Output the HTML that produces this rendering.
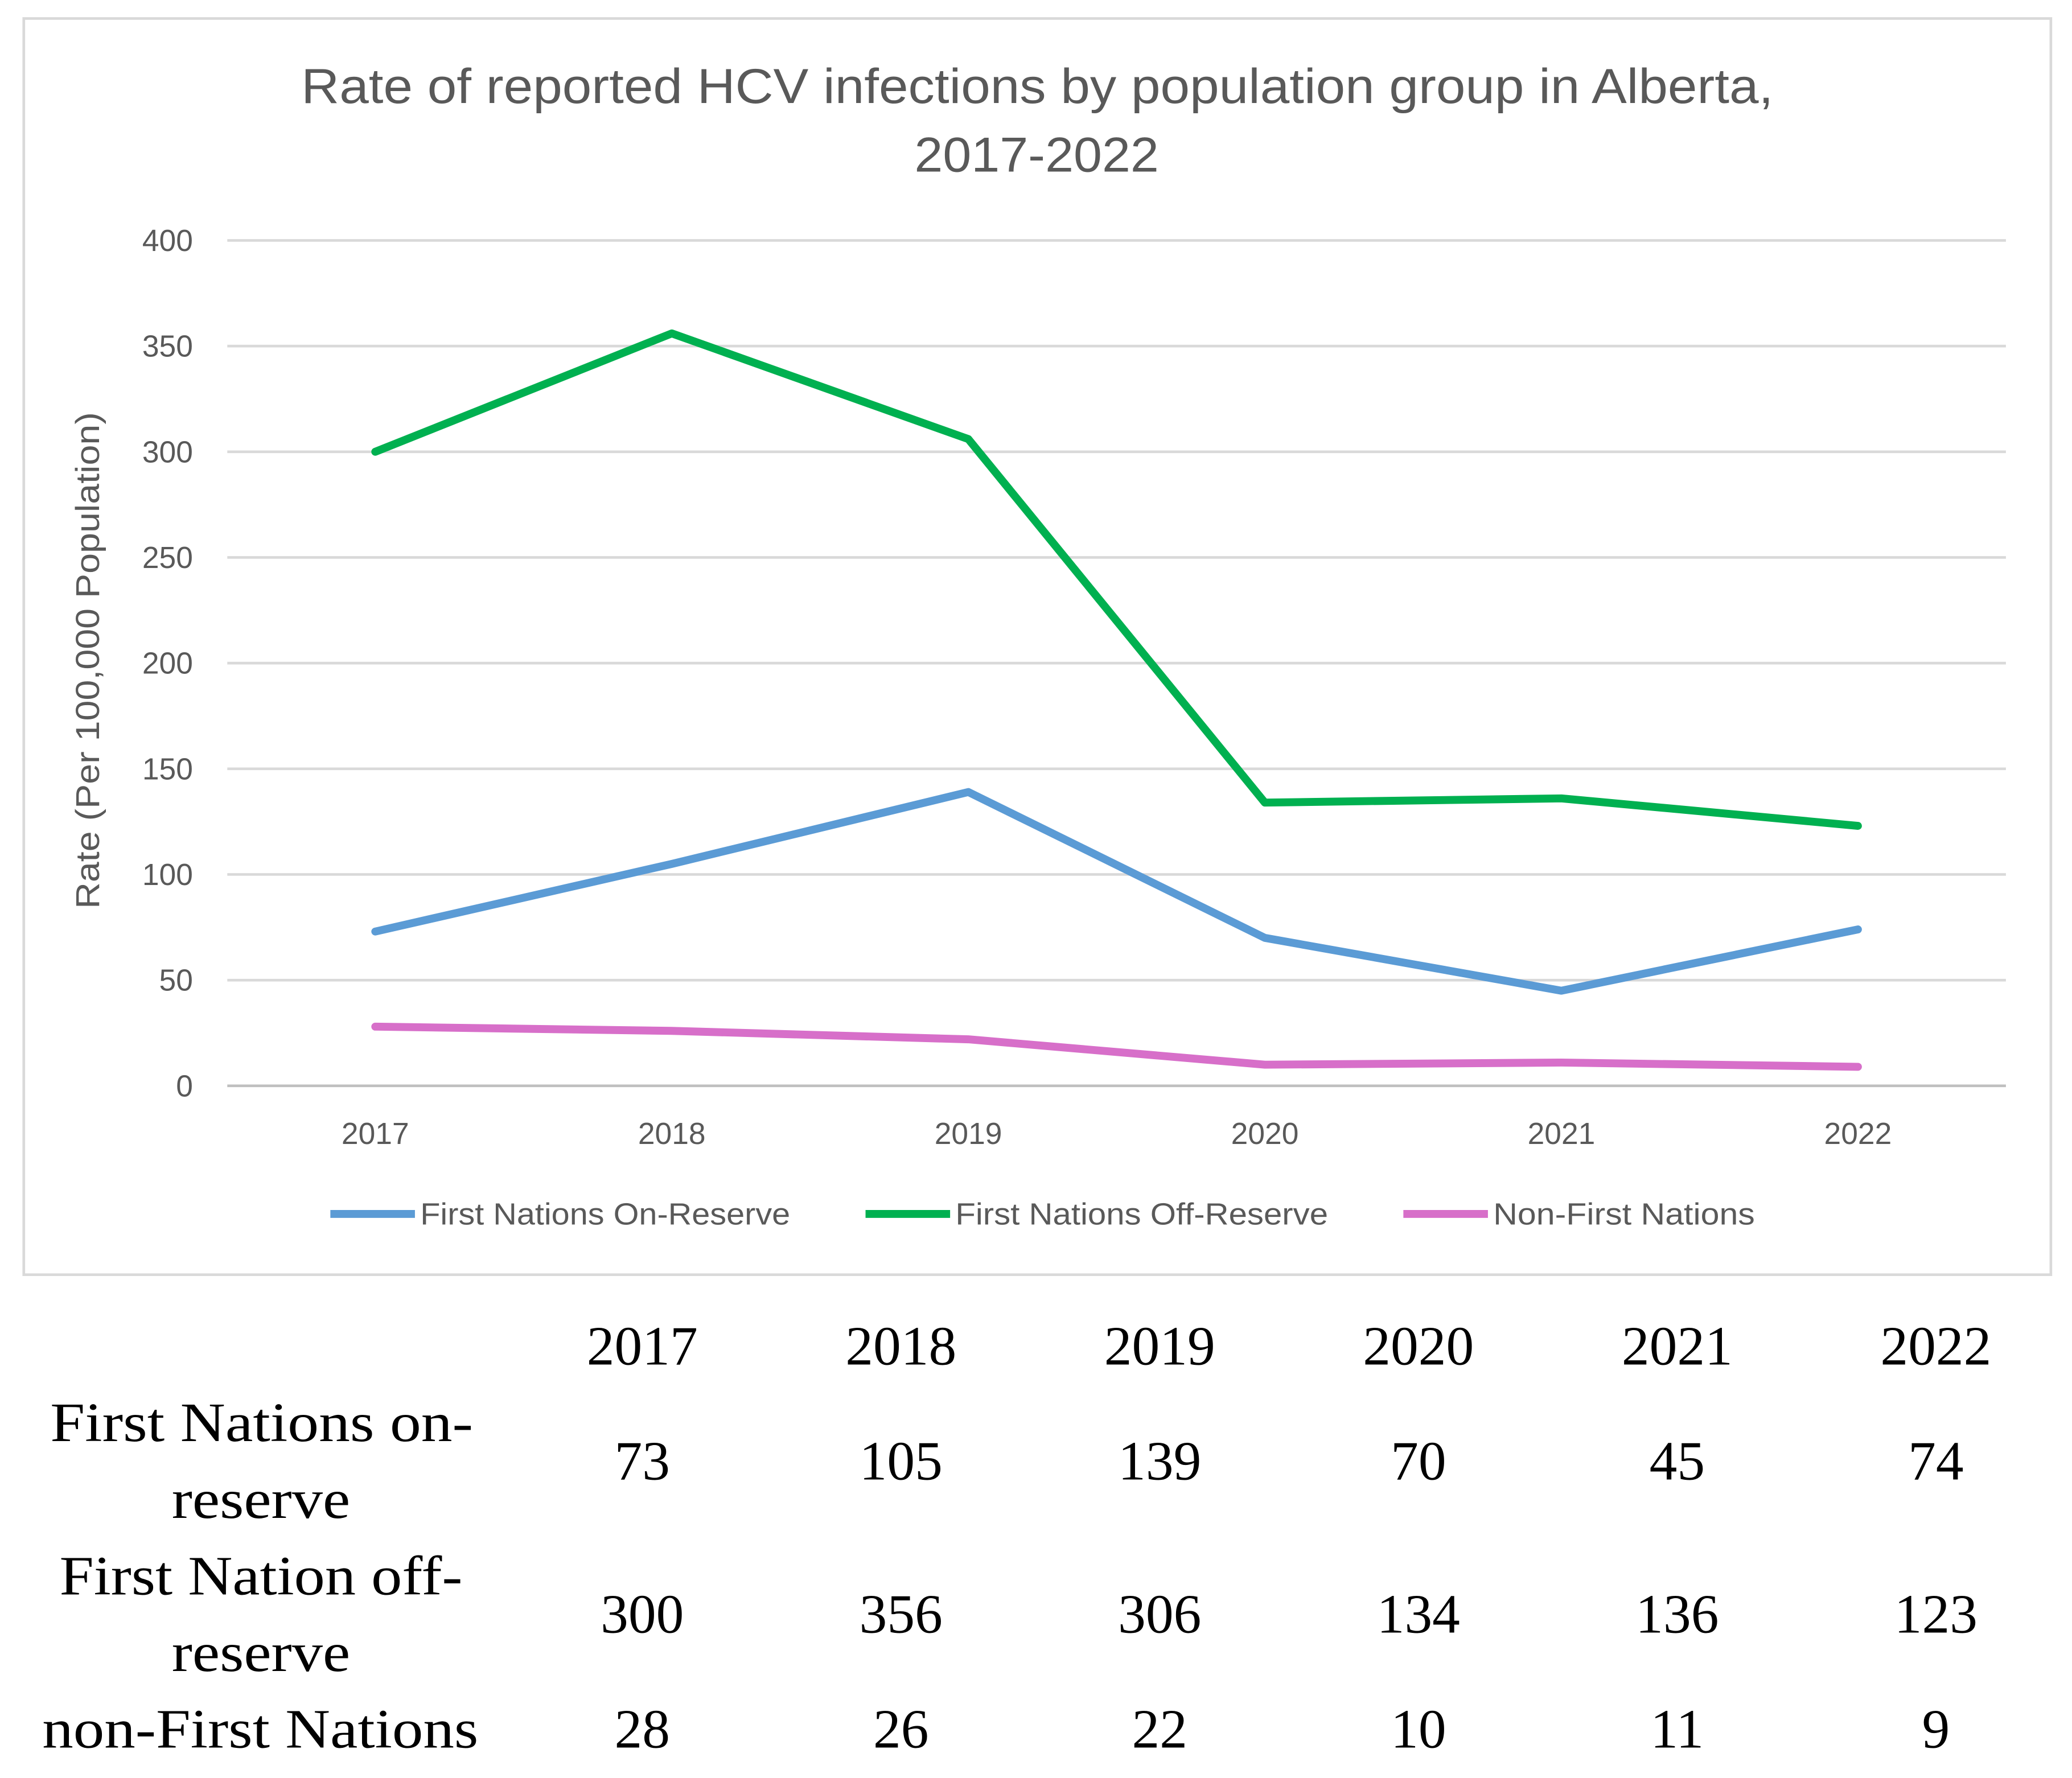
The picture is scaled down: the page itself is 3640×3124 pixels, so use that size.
<!DOCTYPE html>
<html><head><meta charset="utf-8"><style>
html,body{margin:0;padding:0;background:#fff}
svg{display:block}
.ax{font-family:"Liberation Sans","DejaVu Sans",sans-serif;fill:#595959}
.tb{font-family:"Liberation Serif",serif;fill:#000;font-size:42px}
</style></head><body>
<svg id="chart" width="3640" height="3124" viewBox="0 0 1568 1346" preserveAspectRatio="none" xmlns="http://www.w3.org/2000/svg">
<rect x="18" y="14" width="1534" height="951" fill="#fff" stroke="#d9d9d9" stroke-width="2"/>
<text class="ax" x="228" y="78" textLength="1114" lengthAdjust="spacingAndGlyphs" font-size="37">Rate of reported HCV infections by population group in Alberta,</text>
<text class="ax" x="692" y="130" textLength="185" lengthAdjust="spacingAndGlyphs" font-size="37">2017-2022</text>
<text class="ax" transform="translate(75,500) rotate(-90)" text-anchor="middle" font-size="25" textLength="376" lengthAdjust="spacingAndGlyphs">Rate (Per 100,000 Population)</text>
<g id="grid"></g><g id="series"></g><g id="xlabels"></g>
<g>
<line x1="250" y1="919" x2="314" y2="919" stroke="#5B9BD5" stroke-width="6"/>
<text class="ax" x="318" y="927" font-size="23" textLength="280" lengthAdjust="spacingAndGlyphs">First Nations On-Reserve</text>
<line x1="655" y1="919" x2="719" y2="919" stroke="#00B050" stroke-width="6"/>
<text class="ax" x="723" y="927" font-size="23" textLength="282" lengthAdjust="spacingAndGlyphs">First Nations Off-Reserve</text>
<line x1="1062" y1="919" x2="1126" y2="919" stroke="#D76FC9" stroke-width="6"/>
<text class="ax" x="1130" y="927" font-size="23" textLength="198" lengthAdjust="spacingAndGlyphs">Non-First Nations</text>
</g>
<g id="table">
<text class="tb" x="38" y="1091" textLength="320" lengthAdjust="spacingAndGlyphs">First Nations on-</text>
<text class="tb" x="130" y="1149" textLength="135" lengthAdjust="spacingAndGlyphs">reserve</text>
<text class="tb" x="45" y="1207" textLength="305" lengthAdjust="spacingAndGlyphs">First Nation off-</text>
<text class="tb" x="130" y="1265" textLength="135" lengthAdjust="spacingAndGlyphs">reserve</text>
<text class="tb" x="32" y="1323" textLength="330" lengthAdjust="spacingAndGlyphs">non-First Nations</text>
</g>
</svg>
<script>
const years=["2017","2018","2019","2020","2021","2022"];
const onReserve=[73,105,139,70,45,74];
const offReserve=[300,356,306,134,136,123];
const nonFN=[28,26,22,10,11,9];
const yTicks=[0,50,100,150,200,250,300,350,400];
const NS="http://www.w3.org/2000/svg";
const xS=i=>284+i*224.4;
const yS=v=>822-v*1.6;
function mk(tag,attrs,parent,text){const e=document.createElementNS(NS,tag);for(const k in attrs)e.setAttribute(k,attrs[k]);if(text!==undefined)e.textContent=text;parent.appendChild(e);return e;}
const grid=document.getElementById('grid');
yTicks.forEach(t=>{
 const l=mk('line',{x1:172,x2:1518,y1:yS(t),y2:yS(t),stroke:t===0?'#bfbfbf':'#d9d9d9','stroke-width':2},grid);
 
 
 const tx=mk('text',{x:146,y:yS(t)+8,'text-anchor':'end','font-size':23,class:'ax'},grid,String(t));
 
 
});
const xl=document.getElementById('xlabels');
years.forEach((y,i)=>{
 const t=mk('text',{x:xS(i),y:866,'text-anchor':'middle','font-size':23,class:'ax'},xl,y);
 
 
});
const ser=document.getElementById('series');
[[onReserve,'#5B9BD5','line-on-reserve'],[offReserve,'#00B050','line-off-reserve'],[nonFN,'#D76FC9','line-non-first-nations']].forEach(([d,c,n])=>{
 const p=mk('polyline',{points:d.map((v,i)=>xS(i)+','+yS(v)).join(' '),fill:'none',stroke:c,'stroke-width':6,'stroke-linejoin':'round','stroke-linecap':'round'},ser);
 
 
});
const tb=document.getElementById('table');
const cx=i=>486+i*195.8;
years.forEach((y,i)=>{
 const t=mk('text',{x:cx(i),y:1033,'text-anchor':'middle',class:'tb',textLength:84,lengthAdjust:'spacingAndGlyphs'},tb,y);
 
 
});
[[onReserve,1120,'on-reserve'],[offReserve,1236,'off-reserve'],[nonFN,1323,'non-first-nations']].forEach(([d,yy,n])=>{
 d.forEach((v,i)=>{
  const t=mk('text',{x:cx(i),y:yy,'text-anchor':'middle',class:'tb'},tb,String(v));
  
  
 });
});
</script>
</body></html>
